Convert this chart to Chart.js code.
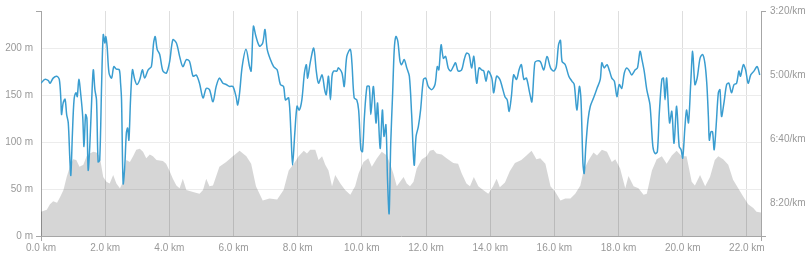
<!DOCTYPE html>
<html>
<head>
<meta charset="utf-8">
<script src="https://cdn.jsdelivr.net/npm/chart.js@4.4.0/dist/chart.umd.min.js"></script>
<style>
  body { margin: 0; background: #fff; }
  #wrap { width: 810px; height: 258px; }
</style>
</head>
<body>
<div id="wrap"><canvas id="runChart" width="810" height="258"></canvas></div>
<script>
// distance (km), elevation (m)
const elevation = [
  [0, 26], [0.18, 28], [0.28, 34], [0.38, 37], [0.5, 35.5], [0.6, 42], [0.7, 49], [0.8, 63],
  [0.9, 74], [1.0, 82], [1.1, 81], [1.2, 74], [1.32, 76], [1.42, 85], [1.52, 88], [1.63, 90],
  [1.73, 89], [1.83, 85], [1.94, 63], [2.04, 58], [2.14, 56], [2.25, 65], [2.35, 56], [2.46, 51],
  [2.56, 58], [2.66, 81], [2.77, 79], [2.87, 85], [2.97, 92], [3.08, 93], [3.18, 90], [3.28, 83],
  [3.39, 87], [3.49, 85], [3.6, 81], [3.8, 80], [3.9, 77], [4.0, 70], [4.11, 61], [4.22, 54],
  [4.32, 51], [4.42, 61], [4.53, 49], [4.74, 47], [4.94, 45], [5.05, 49], [5.15, 61], [5.25, 53],
  [5.36, 54], [5.56, 74], [5.77, 79], [5.98, 85], [6.19, 91], [6.4, 85], [6.55, 77], [6.7, 53],
  [6.91, 38], [7.12, 40], [7.36, 39], [7.56, 49], [7.72, 70], [7.88, 77], [8.03, 85], [8.19, 91],
  [8.29, 88], [8.39, 92], [8.55, 92], [8.65, 81], [8.76, 85], [8.86, 76], [8.96, 70], [9.07, 53],
  [9.17, 65], [9.33, 56], [9.48, 49], [9.64, 44], [9.79, 53], [9.9, 67], [10.05, 79], [10.2, 83],
  [10.31, 74], [10.47, 83], [10.62, 90], [10.78, 86], [10.88, 77], [10.98, 67], [11.09, 53], [11.19, 58],
  [11.3, 63], [11.4, 56], [11.5, 53], [11.61, 58], [11.71, 72], [11.87, 82], [12.02, 85], [12.12, 91],
  [12.23, 92], [12.33, 88], [12.49, 87], [12.64, 83], [12.85, 78], [13.0, 77], [13.11, 67], [13.26, 56],
  [13.37, 53], [13.49, 63], [13.63, 53], [13.78, 49], [13.94, 45], [14.09, 53], [14.2, 61], [14.3, 52],
  [14.46, 57], [14.61, 69], [14.77, 78], [14.97, 81], [15.13, 86], [15.29, 91], [15.44, 82], [15.56, 83],
  [15.72, 77], [15.88, 53], [16.03, 47], [16.19, 38], [16.34, 40], [16.5, 40], [16.65, 45], [16.81, 54],
  [16.91, 70], [17.07, 81], [17.22, 89], [17.33, 86], [17.48, 92], [17.64, 90], [17.79, 79], [17.9, 82],
  [18.05, 72], [18.21, 51], [18.31, 64], [18.47, 53], [18.62, 51], [18.78, 44], [18.88, 45], [19.04, 70],
  [19.19, 82], [19.35, 85], [19.5, 77], [19.66, 86], [19.81, 91], [19.97, 85], [20.12, 85], [20.28, 58],
  [20.38, 54], [20.54, 65], [20.7, 53], [20.85, 63], [21.0, 81], [21.11, 85], [21.26, 82], [21.42, 76],
  [21.57, 60], [21.73, 51], [21.89, 42], [22.04, 34], [22.2, 30], [22.3, 26], [22.44, 25]
];

// distance (km), pace (seconds per km)
const pace = [
  [0.0, 313], [0.12, 307], [0.23, 309], [0.28, 313], [0.38, 305], [0.49, 302], [0.57, 307], [0.62, 339],
  [0.64, 362], [0.69, 344], [0.75, 338], [0.8, 362], [0.85, 375], [0.9, 433], [0.93, 457], [0.98, 391],
  [1.03, 339], [1.09, 328], [1.13, 334], [1.18, 307], [1.24, 331], [1.3, 365], [1.34, 412], [1.39, 362],
  [1.43, 368], [1.47, 449], [1.52, 412], [1.58, 339], [1.63, 292], [1.68, 323], [1.73, 339], [1.78, 436],
  [1.83, 433], [1.89, 313], [1.94, 237], [1.99, 250], [2.02, 240], [2.06, 255], [2.12, 297], [2.2, 305],
  [2.27, 287], [2.35, 291], [2.44, 292], [2.48, 313], [2.51, 339], [2.56, 470], [2.61, 444], [2.66, 391],
  [2.7, 383], [2.74, 402], [2.79, 339], [2.85, 292], [2.92, 307], [2.99, 315], [3.08, 307], [3.16, 292],
  [3.23, 305], [3.34, 292], [3.44, 287], [3.51, 250], [3.56, 240], [3.62, 260], [3.7, 268], [3.8, 294],
  [3.91, 297], [4.01, 279], [4.11, 245], [4.22, 250], [4.32, 271], [4.42, 287], [4.53, 276], [4.63, 279],
  [4.74, 302], [4.84, 300], [4.94, 313], [5.05, 336], [5.15, 321], [5.25, 323], [5.36, 342], [5.46, 318],
  [5.56, 305], [5.67, 313], [5.77, 315], [5.88, 318], [5.98, 318], [6.08, 334], [6.13, 347], [6.19, 328],
  [6.27, 287], [6.39, 260], [6.5, 287], [6.55, 294], [6.62, 224], [6.7, 240], [6.81, 255], [6.91, 250],
  [6.98, 229], [7.05, 260], [7.15, 276], [7.25, 287], [7.36, 292], [7.46, 315], [7.56, 318], [7.62, 339],
  [7.72, 336], [7.79, 391], [7.84, 441], [7.91, 391], [7.98, 349], [8.05, 355], [8.13, 339], [8.21, 297],
  [8.27, 284], [8.31, 305], [8.39, 281], [8.5, 258], [8.58, 294], [8.65, 313], [8.76, 300], [8.84, 323],
  [8.89, 331], [8.96, 302], [9.02, 339], [9.07, 302], [9.12, 294], [9.22, 294], [9.27, 289], [9.38, 297],
  [9.45, 318], [9.53, 271], [9.64, 260], [9.69, 281], [9.76, 336], [9.84, 339], [9.9, 355], [9.97, 417],
  [10.02, 420], [10.08, 365], [10.16, 318], [10.23, 318], [10.28, 362], [10.36, 318], [10.44, 375], [10.49, 344],
  [10.57, 415], [10.64, 355], [10.69, 396], [10.75, 378], [10.8, 464], [10.85, 517], [10.9, 407], [10.96, 328],
  [11.01, 260], [11.06, 240], [11.12, 247], [11.19, 279], [11.24, 284], [11.32, 276], [11.4, 289], [11.48, 302],
  [11.55, 360], [11.63, 441], [11.69, 396], [11.76, 381], [11.83, 355], [11.92, 307], [11.99, 305], [12.07, 318],
  [12.18, 323], [12.28, 315], [12.35, 287], [12.4, 292], [12.47, 253], [12.54, 274], [12.61, 271], [12.69, 289],
  [12.77, 294], [12.85, 287], [12.92, 281], [13.0, 294], [13.11, 292], [13.19, 276], [13.26, 266], [13.34, 268],
  [13.42, 289], [13.49, 271], [13.58, 313], [13.65, 289], [13.73, 292], [13.8, 294], [13.87, 310], [13.94, 294],
  [14.05, 305], [14.11, 328], [14.2, 302], [14.3, 307], [14.38, 320], [14.46, 334], [14.53, 339], [14.59, 357],
  [14.66, 334], [14.73, 300], [14.82, 307], [14.9, 292], [14.97, 284], [15.05, 307], [15.13, 305], [15.23, 328],
  [15.3, 342], [15.39, 281], [15.46, 278], [15.56, 279], [15.67, 292], [15.77, 271], [15.88, 289], [15.98, 294],
  [16.06, 287], [16.13, 253], [16.19, 246], [16.24, 279], [16.34, 284], [16.45, 302], [16.55, 310], [16.62, 315],
  [16.7, 355], [16.78, 318], [16.83, 339], [16.89, 438], [16.93, 454], [16.98, 412], [17.05, 370], [17.12, 349],
  [17.22, 336], [17.33, 321], [17.43, 307], [17.48, 281], [17.55, 289], [17.64, 284], [17.72, 294], [17.79, 305],
  [17.87, 310], [17.95, 334], [18.02, 315], [18.1, 321], [18.18, 297], [18.26, 289], [18.34, 294], [18.41, 300],
  [18.52, 292], [18.59, 289], [18.67, 263], [18.73, 276], [18.8, 294], [18.88, 323], [18.98, 347], [19.07, 412],
  [19.14, 423], [19.21, 420], [19.27, 360], [19.35, 307], [19.4, 305], [19.45, 339], [19.5, 305], [19.59, 375],
  [19.66, 357], [19.73, 407], [19.81, 349], [19.89, 412], [19.95, 417], [20.0, 430], [20.07, 381], [20.12, 355],
  [20.18, 375], [20.25, 313], [20.31, 263], [20.38, 315], [20.45, 305], [20.54, 274], [20.62, 268], [20.69, 281],
  [20.75, 313], [20.8, 365], [20.83, 402], [20.88, 389], [20.93, 389], [20.98, 417], [21.04, 381], [21.11, 328],
  [21.16, 323], [21.21, 365], [21.29, 342], [21.37, 315], [21.44, 313], [21.52, 328], [21.6, 315], [21.68, 313],
  [21.75, 294], [21.8, 302], [21.89, 284], [21.96, 292], [22.04, 313], [22.12, 300], [22.22, 294], [22.32, 287],
  [22.4, 300]
];

// axis ticks
const kmTicks = [0, 2, 4, 6, 8, 10, 12, 14, 16, 18, 20, 22, 22.44];
const elevTicks = [0, 50, 100, 150, 200, 240];
const paceTicks = [200, 300, 400, 500, 552];

const axisGray = "#a6a6a6";
const textGray = "#999";

Chart.defaults.font.family = "'Liberation Sans', Arial, sans-serif";
Chart.defaults.font.size = 10;
Chart.defaults.color = textGray;

function fmtPace(sec) {
  const m = Math.floor(sec / 60);
  const s = Math.round(sec % 60);
  return m + ":" + (s < 10 ? "0" : "") + s + "/km";
}

// only the two end ticks get a tick mark
function endTick(list) {
  return ctx => (ctx.index === 0 || ctx.index === list.length - 1) ? axisGray : "rgba(0,0,0,0)";
}

const ctx = document.getElementById("runChart").getContext("2d");
new Chart(ctx, {
  type: "line",
  data: {
    datasets: [
      {
        label: "Pace",
        data: pace.map(p => ({ x: p[0], y: p[1] })),
        yAxisID: "yPace",
        borderColor: "#3a9dd0",
        borderWidth: 1.5,
        pointRadius: 0,
        tension: 0.3,
        fill: false,
      },
      {
        label: "Elevation",
        data: elevation.map(p => ({ x: p[0], y: p[1] })),
        yAxisID: "y",
        borderColor: "rgba(0,0,0,0)",
        borderWidth: 0,
        backgroundColor: "rgba(0,0,0,0.16)",
        pointRadius: 0,
        tension: 0,
        fill: "origin",
      },
    ],
  },
  options: {
    responsive: false,
    animation: false,
    layout: { padding: { top: 11, left: 0, right: 0, bottom: 0 } },
    plugins: { legend: { display: false }, tooltip: { enabled: false } },
    scales: {
      x: {
        type: "linear",
        min: 0,
        max: 22.44,
        afterBuildTicks: s => { s.ticks = kmTicks.map(v => ({ value: v })); },
        afterFit: s => { s.height = 22; },
        ticks: {
          padding: 1,
          maxRotation: 0,
          autoSkip: false,
          callback: v => (v === 22.44 ? "" : v.toFixed(1) + " km"),
        },
        grid: {
          color: c => (c.index === kmTicks.length - 1 ? "rgba(0,0,0,0)" : "#dedede"),
          tickColor: endTick(kmTicks),
          tickLength: 5,
        },
        border: { color: axisGray },
      },
      y: {
        position: "left",
        min: 0,
        max: 240,
        afterBuildTicks: s => { s.ticks = elevTicks.map(v => ({ value: v })); },
        afterFit: s => { s.width = 41; },
        ticks: {
          padding: 3,
          callback: v => (v === 240 ? "" : v + " m"),
        },
        grid: {
          color: c => (c.index === elevTicks.length - 1 ? "rgba(0,0,0,0)" : "#ececec"),
          tickColor: endTick(elevTicks),
          tickLength: 5,
        },
        border: { color: axisGray },
      },
      yPace: {
        position: "right",
        reverse: true,
        min: 200,
        max: 552,
        afterBuildTicks: s => { s.ticks = paceTicks.map(v => ({ value: v })); },
        afterFit: s => { s.width = 49; },
        ticks: {
          padding: 4,
          callback: v => (v === 552 ? "" : fmtPace(v)),
        },
        grid: {
          drawOnChartArea: false,
          tickColor: endTick(paceTicks),
          tickLength: 5,
        },
        border: { color: axisGray },
      },
    },
  },
});
</script>
</body>
</html>
